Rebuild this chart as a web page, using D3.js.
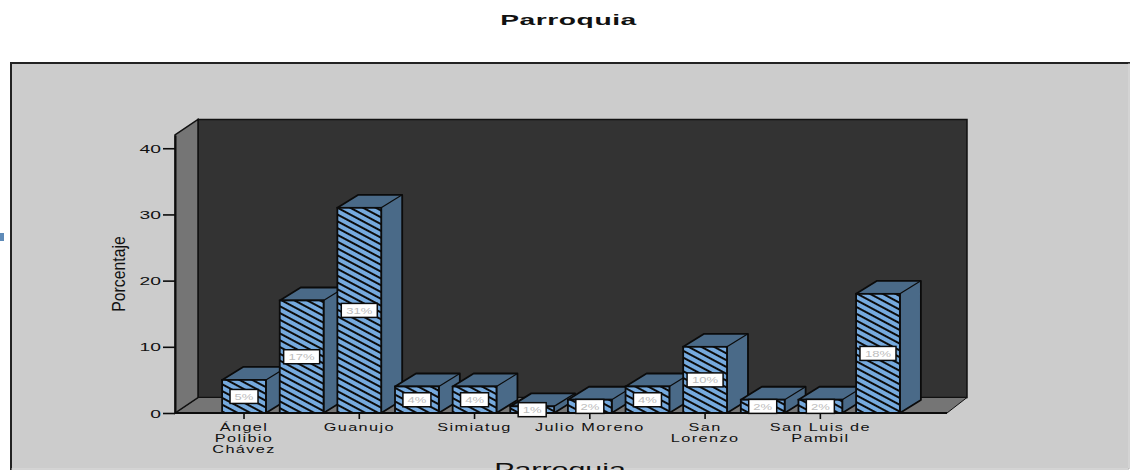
<!DOCTYPE html>
<html>
<head>
<meta charset="utf-8">
<script src="https://cdn.jsdelivr.net/npm/d3@7"></script>
<style>
html,body{margin:0;padding:0;background:#fff;overflow:hidden}
svg{display:block}
text{font-family:"Liberation Sans",Arial,sans-serif;fill:#111}
</style>
</head>
<body>
<svg id="chart" width="1130" height="470"></svg>
<script>
// Percentage of respondents per parish; only every other category carries a label.
const categoryLabels = [
  ["Ángel","Polibio","Chávez"], [], ["Guanujo"], [], ["Simiatug"], [],
  ["Julio Moreno"], [], ["San","Lorenzo"], [], ["San Luis de","Pambil"], []
];
const percentValues = [5, 17, 31, 4, 4, 1, 2, 4, 10, 2, 2, 18];
const percentTicks = [0, 10, 20, 30, 40];
const chartTitle = "Parroquia";
const xAxisTitle = "Parroquia";
const yAxisTitle = "Porcentaje";

const svg = d3.select("#chart");

// Plot box and oblique depth of the 3D scene
const floorY = 413, wallTopY = 135, wallLeft = 175, floorRight = 947;
const wallDx = 23, wallDy = 15.5, barDx = 21, barDy = 13;

const x = d3.scaleBand().domain(d3.range(percentValues.length))
  .range([215.2, 906.8]).paddingInner(0.24).paddingOuter(0.12);
const y = d3.scaleLinear().domain([0, 42]).range([floorY, wallTopY]);

const blue = "#4a6a88", hatchBase = "#76aade", ink = "#0b0b0b";

const defs = svg.append("defs");
const hatch = defs.append("pattern").attr("id", "hatch")
  .attr("patternUnits", "userSpaceOnUse").attr("width", 6).attr("height", 6)
  .attr("patternTransform", "rotate(28)");
hatch.append("rect").attr("width", 6).attr("height", 6).attr("fill", hatchBase);
hatch.append("rect").attr("width", 6).attr("height", 2).attr("fill", ink);

// Outer panel
svg.append("rect").attr("x", 11).attr("y", 63).attr("width", 1117).attr("height", 405)
  .attr("fill", "#cccccc");
svg.append("path").attr("d", "M11,470V63H1130").attr("fill", "none").attr("stroke", "#222").attr("stroke-width", 2);
svg.append("path").attr("d", "M1129,63V469H11").attr("fill", "none").attr("stroke", "#a8a8a8").attr("stroke-width", 1);

// Stray fragment at the far left margin
svg.append("rect").attr("x", 0).attr("y", 233).attr("width", 4).attr("height", 8).attr("fill", "#5f8bb8");

// Text stretched along its own direction
function stretched(sel, px, py, sx, rotate) {
  sel.attr("transform", `translate(${px},${py})${rotate ? ` rotate(${rotate})` : ""} scale(${sx},1)`);
  return sel;
}

stretched(svg.append("text").text(chartTitle).attr("text-anchor", "middle")
  .attr("font-size", 15).attr("font-weight", "bold").attr("letter-spacing", 0.3), 568.5, 25, 1.88);

// Walls and floor
const backRight = floorRight + wallDx - 3;
const backLeft = wallLeft + wallDx, backTop = wallTopY - wallDy, backFloor = floorY - wallDy;
svg.append("rect").attr("x", backLeft).attr("y", backTop)
  .attr("width", backRight - backLeft).attr("height", backFloor - backTop)
  .attr("fill", "#333333").attr("stroke", "#111").attr("stroke-width", 1.5);
svg.append("path")
  .attr("d", `M${wallLeft},${floorY}L${backLeft},${backFloor}L${backRight},${backFloor}L${floorRight},${floorY}Z`)
  .attr("fill", "#757575").attr("stroke", "#111").attr("stroke-width", 1);
svg.append("path")
  .attr("d", `M${wallLeft},${floorY}L${wallLeft},${wallTopY}L${backLeft},${backTop}L${backLeft},${backFloor}Z`)
  .attr("fill", "#757575").attr("stroke", "#111").attr("stroke-width", 1.5);

// Bars, left to right so each overlaps the side of the previous one
const bars = svg.append("g").selectAll("g").data(percentValues).join("g");
const bw = x.bandwidth();
bars.append("path").attr("fill", blue).attr("stroke", ink).attr("stroke-width", 1.8)
  .attr("stroke-linejoin", "round")
  .attr("d", (d, i) => {
    const l = x(i), r = l + bw, t = y(d);
    return `M${l},${t}L${l + barDx},${t - barDy}L${r + barDx},${t - barDy}L${r + barDx},${floorY - barDy}L${r},${floorY}L${r},${t}Z`;
  });
bars.append("path").attr("fill", "none").attr("stroke", ink).attr("stroke-width", 1.2)
  .attr("d", (d, i) => `M${x(i) + bw},${y(d)}L${x(i) + bw + barDx},${y(d) - barDy}`);
bars.append("rect").attr("x", (d, i) => x(i)).attr("y", d => y(d))
  .attr("width", bw).attr("height", d => floorY - y(d))
  .attr("fill", "url(#hatch)").attr("stroke", ink).attr("stroke-width", 1.8);

// Axes
const yAxis = svg.append("g").attr("transform", `translate(${wallLeft},0)`)
  .call(d3.axisLeft(y).tickValues(percentTicks).tickSize(12).tickSizeOuter(0).tickFormat(""));
yAxis.select(".domain").attr("stroke", ink).attr("stroke-width", 2);
yAxis.selectAll(".tick line").attr("stroke", ink).attr("stroke-width", 1.6);
yAxis.selectAll(".tick").append("text")
  .text(d => d).attr("text-anchor", "end").attr("font-size", 11)
  .attr("transform", "translate(-14,4) scale(1.75,1)");

const labelled = d3.range(percentValues.length).filter(i => categoryLabels[i].length);
const xAxis = svg.append("g").attr("transform", `translate(0,${floorY})`)
  .call(d3.axisBottom(x).tickValues(labelled).tickSize(6).tickSizeOuter(0).tickFormat(""));
xAxis.select(".domain").attr("d", `M${wallLeft},0H${floorRight}`).attr("stroke", ink).attr("stroke-width", 2);
xAxis.selectAll(".tick line").attr("stroke", ink).attr("stroke-width", 1.6);
xAxis.selectAll(".tick").each(function (i) {
  const g = d3.select(this);
  categoryLabels[i].forEach((line, k) => {
    stretched(g.append("text").text(line).attr("text-anchor", "middle")
      .attr("font-size", 10.5).attr("letter-spacing", 0.9), 0, 18 + k * 11, 1.55);
  });
});

// Value labels in white boxes at the middle of each bar, above the baseline
const labels = svg.append("g").selectAll("g").data(percentValues).join("g")
  .attr("transform", (d, i) => `translate(${x(i) + bw / 2},${(y(d) + floorY) / 2})`);
labels.append("rect")
  .attr("x", d => d >= 10 ? -18 : -14).attr("width", d => d >= 10 ? 36 : 28)
  .attr("y", -7).attr("height", 14)
  .attr("fill", "#fff").attr("stroke", ink).attr("stroke-width", 1.5);
labels.append("text").text(d => d + "%").attr("text-anchor", "middle")
  .attr("font-size", 9).style("fill", "#bdbdbd")
  .attr("transform", "translate(0,3.5) scale(1.45,1)");

// Axis titles
stretched(svg.append("text").text(yAxisTitle).attr("text-anchor", "middle").attr("font-size", 19),
  125, 274, 0.83, -90);
stretched(svg.append("text").text(xAxisTitle).attr("text-anchor", "middle").attr("font-size", 19),
  560, 476, 1.6);
</script>
</body>
</html>
